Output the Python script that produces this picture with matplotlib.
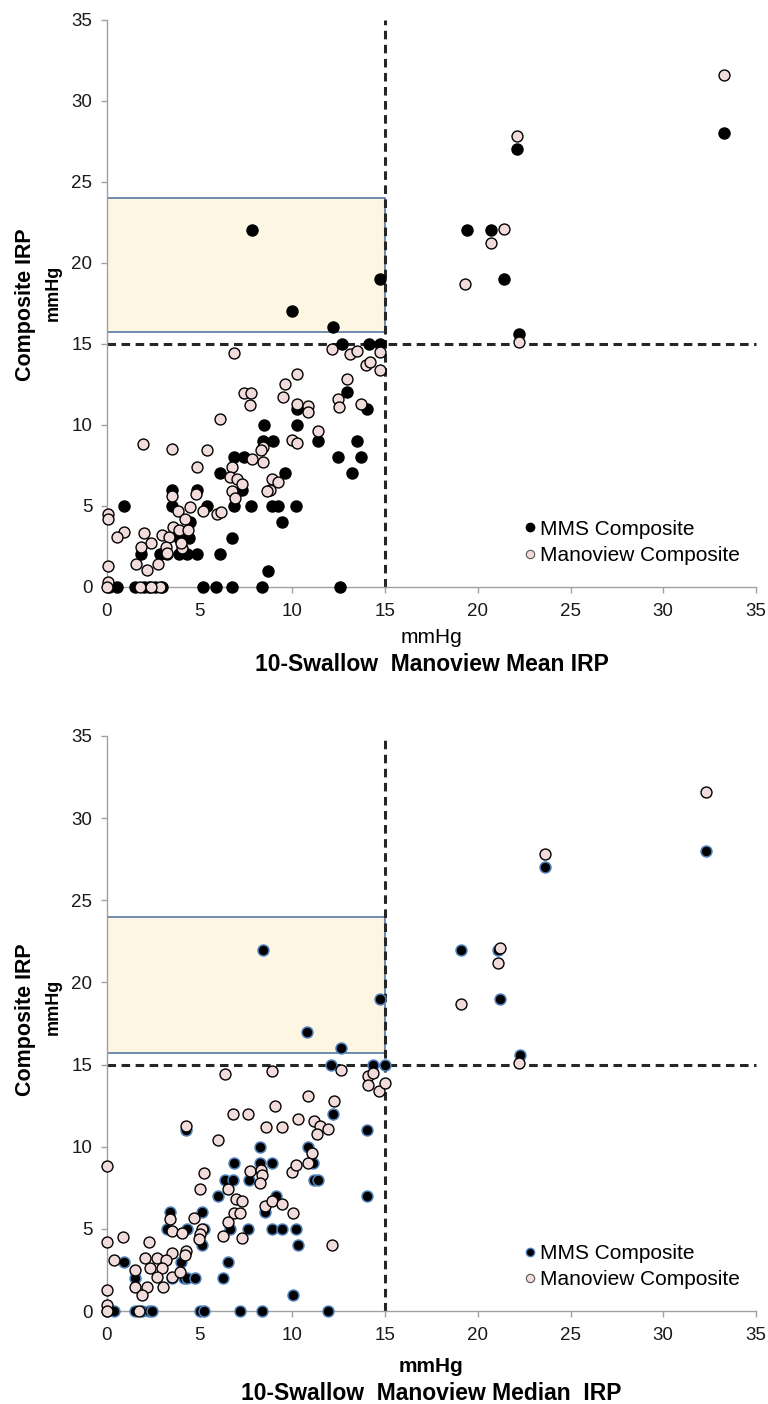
import matplotlib
matplotlib.use("Agg")
import matplotlib.pyplot as plt
from matplotlib.patches import Rectangle
from matplotlib.lines import Line2D

plt.rcParams['font.family'] = ['Liberation Sans', 'DejaVu Sans']

# ---- data: 10-swallow Manoview MEAN IRP (x) vs composite IRP (y) ----
mean_mms_x = [7.8, 10.0, 12.2, 14.7, 19.4, 20.7, 21.4, 22.1, 33.3, 22.2,
              12.7, 14.15, 14.7, 12.96, 14.0, 10.27, 8.47, 10.27, 8.4, 8.94,
              11.38, 13.46, 6.86, 7.4, 12.48, 13.68, 9.6, 6.07, 13.2, 7.3,
              3.52, 4.85, 0.9, 3.52, 5.42, 6.86, 7.76, 8.9, 9.2, 10.2,
              9.46, 4.49, 6.73, 3.86, 4.4, 1.83, 2.87, 3.23, 3.86, 4.31,
              4.85, 6.1, 8.7, 0.09, 0.54, 1.53, 1.97, 2.24, 2.6, 2.96,
              5.2, 5.9, 6.73, 8.38, 12.57]
mean_mms_y = [22, 17, 16, 19, 22, 22, 19, 27, 28, 15.6,
              15, 15, 15, 12, 11, 11, 10, 10, 9, 9,
              9, 9, 8, 8, 8, 8, 7, 7, 7, 6,
              6, 6, 5, 5, 5, 5, 5, 5, 5, 5,
              4, 4, 3, 3, 3, 2, 2, 2, 2, 2,
              2, 2, 1, 0, 0, 0, 0, 0, 0, 0,
              0, 0, 0, 0, 0]
mean_mano_x = [21.4, 20.7, 19.3, 22.1, 33.3, 22.2,
               6.86, 12.15, 13.1, 13.5, 14.7, 13.97, 14.18, 14.7, 10.27, 9.6,
               12.96, 9.48, 7.4, 7.76, 7.72, 10.27, 10.86, 10.86, 12.48, 12.5,
               13.68, 6.1, 11.4, 9.96, 10.23, 1.94, 3.52, 5.39, 8.44, 8.3,
               7.8, 8.4, 4.85, 6.73, 6.64, 7.0, 7.3, 8.9, 9.2, 6.73,
               6.9, 8.8, 8.65, 3.52, 4.81, 4.5, 3.84, 5.2, 5.92, 6.14,
               0.04, 0.04, 4.22, 3.56, 3.86, 4.35, 0.93, 0.54, 2.0, 2.96,
               3.32, 2.39, 1.83, 3.2, 4.04, 4.0, 3.23, 0.04, 1.54, 2.15,
               2.75, 0.04, 1.8, 2.87, 0.0, 2.4]
mean_mano_y = [22.1, 21.2, 18.7, 27.8, 31.6, 15.1,
               14.42, 14.7, 14.35, 14.55, 14.5, 13.7, 13.9, 13.4, 13.1, 12.5,
               12.8, 11.7, 11.96, 11.96, 11.2, 11.26, 11.15, 10.8, 11.57, 11.1,
               11.26, 10.38, 9.6, 9.04, 8.88, 8.8, 8.5, 8.42, 8.6, 8.42,
               7.87, 7.7, 7.4, 7.4, 6.78, 6.68, 6.37, 6.68, 6.45, 5.9,
               5.45, 5.96, 5.9, 5.6, 5.7, 4.93, 4.66, 4.66, 4.46, 4.6,
               4.46, 4.2, 4.2, 3.7, 3.5, 3.5, 3.39, 3.08, 3.33, 3.2,
               3.08, 2.67, 2.47, 2.47, 2.36, 2.67, 2.1, 1.3, 1.38, 1.03,
               1.38, 0.3, 0.0, 0.0, 0.0, 0.0]

# ---- data: 10-swallow Manoview MEDIAN IRP (x) vs composite IRP (y) ----
median_mms_x = [8.4, 10.8, 12.6, 14.7, 19.1, 21.1, 21.2, 23.6, 32.3, 22.3,
                12.08, 14.33, 15.0, 12.2, 14.0, 4.25, 8.26, 10.86, 6.86, 8.26,
                8.89, 11.13, 6.37, 6.82, 7.67, 11.18, 11.4, 6.01, 9.12, 14.0,
                8.53, 3.41, 5.12, 3.23, 4.31, 5.21, 6.64, 7.63, 8.89, 9.46,
                10.18, 5.12, 10.32, 6.55, 0.9, 4.0, 1.53, 3.5, 4.13, 4.31,
                4.76, 6.25, 10.05, 0.0, 0.36, 1.53, 1.89, 2.24, 2.42, 5.03,
                5.21, 7.18, 8.35, 11.94]
median_mms_y = [22, 17, 16, 19, 22, 22, 19, 27, 28, 15.6,
                15, 15, 15, 12, 11, 11, 10, 10, 9, 9,
                9, 9, 8, 8, 8, 8, 8, 7, 7, 7,
                6, 6, 6, 5, 5, 5, 5, 5, 5, 5,
                5, 4, 4, 3, 3, 3, 2, 2, 2, 2,
                2, 2, 1, 0, 0, 0, 0, 0, 0, 0,
                0, 0, 0, 0]
median_mano_x = [21.2, 21.1, 19.1, 23.6, 32.3, 22.2,
                 6.37, 8.89, 12.62, 14.06, 14.36, 14.06, 14.67, 14.99, 10.83, 12.24,
                 9.07, 6.82, 7.63, 4.27, 5.98, 8.56, 9.46, 10.32, 11.17, 11.49,
                 11.31, 11.94, 11.08, 10.83, 9.96, 10.18, 0.0, 5.21, 7.72, 8.29,
                 8.35, 8.26, 5.03, 6.55, 6.95, 7.27, 6.87, 7.18, 8.53, 8.89,
                 9.46, 10.05, 3.41, 3.5, 4.72, 4.04, 5.12, 5.03, 4.94, 6.28,
                 6.55, 7.27, 12.12, 0.0, 0.86, 2.24, 2.06, 2.69, 3.5, 3.18,
                 4.27, 4.22, 0.36, 2.33, 2.96, 3.5, 3.95, 2.69, 1.53, 1.53,
                 2.15, 1.89, 3.0, 0.0, 0.0, 0.0, 1.7]
median_mano_y = [22.1, 21.2, 18.7, 27.8, 31.6, 15.1,
                 14.42, 14.6, 14.7, 14.3, 14.5, 13.75, 13.4, 13.9, 13.08, 12.78,
                 12.5, 11.97, 11.97, 11.26, 10.4, 11.18, 11.18, 11.66, 11.58, 11.26,
                 10.8, 11.07, 9.6, 9.0, 8.48, 8.88, 8.82, 8.42, 8.54, 8.58,
                 8.28, 7.77, 7.4, 7.4, 6.8, 6.69, 5.98, 5.94, 6.39, 6.69,
                 6.49, 5.94, 5.58, 4.87, 5.68, 4.73, 4.97, 4.69, 4.38, 4.56,
                 5.4, 4.42, 4.02, 4.2, 4.48, 4.18, 3.25, 3.25, 3.55, 3.1,
                 3.67, 3.4, 3.1, 2.6, 2.6, 2.09, 2.39, 2.09, 2.5, 1.44,
                 1.44, 0.97, 1.44, 1.28, 0.37, 0.0, 0.0]

ticks = [0, 5, 10, 15, 20, 25, 30, 35]
cutoff = 15
box_y = (15.7, 24.0)

pink = '#F2DCDB'
grey = '#A0A0A0'


def draw_panel(ax, mms_x, mms_y, mano_x, mano_y, mms_edge):
    ax.set_xlim(0, 35)
    ax.set_ylim(0, 35)
    ax.add_patch(Rectangle((0, box_y[0]), cutoff, box_y[1] - box_y[0],
                           facecolor='#FDF6E3', edgecolor='#4A6E9C', lw=1.1, zorder=1))
    ax.plot([cutoff, cutoff], [0, 35], color='#262626', lw=2.2,
            linestyle=(0, (2.8, 1.8)), zorder=2, clip_on=False)
    ax.plot([0, 35], [cutoff, cutoff], color='#262626', lw=2.2,
            linestyle=(0, (2.8, 1.8)), zorder=2, clip_on=False)
    ax.scatter(mms_x, mms_y, s=62, c='black', edgecolors=mms_edge,
               linewidths=1.1, zorder=3, clip_on=False)
    ax.scatter(mano_x, mano_y, s=62, c=pink, edgecolors='black',
               linewidths=1.0, zorder=4, clip_on=False)

    for side in ['top', 'right']:
        ax.spines[side].set_visible(False)
    for side in ['left', 'bottom']:
        ax.spines[side].set_color(grey)
        ax.spines[side].set_linewidth(1.0)
    ax.set_xticks(ticks)
    ax.set_yticks(ticks)
    ax.tick_params(axis='both', colors=grey, labelcolor='#1a1a1a',
                   labelsize=13.5, length=4.5, width=1.0, direction='out')
    ax.tick_params(axis='y', pad=6)
    ax.tick_params(axis='x', pad=7)

    handles = [Line2D([], [], marker='o', linestyle='none', markersize=6,
                      markerfacecolor='black', markeredgecolor=mms_edge),
               Line2D([], [], marker='o', linestyle='none', markersize=6,
                      markerfacecolor=pink, markeredgecolor='#555555',
                      markeredgewidth=0.8)]
    ax.legend(handles, ['MMS Composite', 'Manoview Composite'],
              loc='lower left', bbox_to_anchor=(0.628, 0.02), frameon=False,
              fontsize=15, handlelength=0.5, handletextpad=0.2,
              borderpad=0, labelspacing=0.35)


fig = plt.figure(figsize=(7.68, 14.04), dpi=100)

ax1 = fig.add_axes([0.1393, 0.5821, 0.845, 0.4039])
draw_panel(ax1, mean_mms_x, mean_mms_y, mean_mano_x, mean_mano_y, 'black')
ax2 = fig.add_axes([0.1393, 0.0662, 0.845, 0.4096])
draw_panel(ax2, median_mms_x, median_mms_y, median_mano_x, median_mano_y, '#4F81BD')

# axis titles
xc = 0.1393 + 0.845 / 2
fig.text(xc, 0.5456, 'mmHg', ha='center', va='center', fontsize=15)
fig.text(xc, 0.5264, '10-Swallow  Manoview Mean IRP', ha='center', va='center',
         fontsize=16.5, fontweight='bold')
fig.text(xc, 0.0264, 'mmHg', ha='center', va='center', fontsize=15, fontweight='bold')
fig.text(xc, 0.0078, '10-Swallow  Manoview Median  IRP', ha='center', va='center',
         fontsize=16.5, fontweight='bold')

for yc, ym in [(0.7828, 0.7913), (0.2735, 0.2828)]:
    fig.text(0.0326, yc, 'Composite IRP', rotation=90, ha='center', va='center',
             fontsize=15.5, fontweight='bold')
    fig.text(0.069, ym, 'mmHg', rotation=90, ha='center', va='center',
             fontsize=13, fontweight='bold')

fig.savefig('out.png', dpi=100)
